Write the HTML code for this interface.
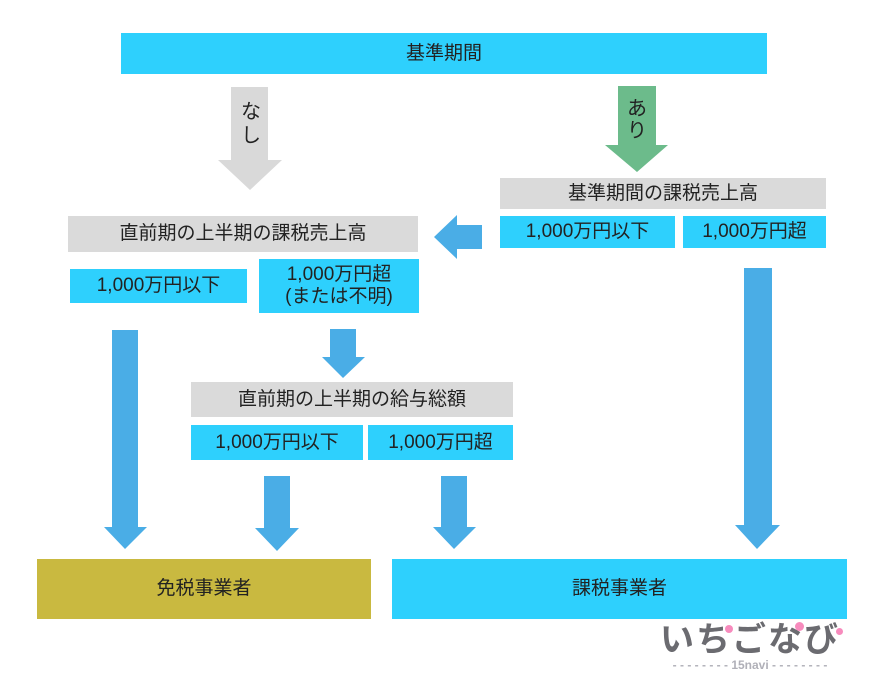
<!DOCTYPE html>
<html><head><meta charset="utf-8"><style>
body{margin:0;width:884px;height:691px;background:#fff;position:relative;overflow:hidden;font-family:"Liberation Sans","Noto Sans CJK JP",sans-serif;color:#222}
.b{position:absolute;display:flex;align-items:center;justify-content:center;text-align:center;font-size:19px;line-height:1.15}
.c{background:#2ed0fd}.g{background:#dadada}
svg{position:absolute;left:0;top:0}
</style></head><body>
<svg width="884" height="691">
<polygon points="231,87 268,87 268,160 282,160 250,190 218,160 231,160" fill="#d9d9d9"/>
<polygon points="618,86 656,86 656,145 668,145 637,172 605,145 618,145" fill="#6cbb8b"/>
<polygon points="482,225 457,225 457,215 434,237 457,259 457,249 482,249" fill="#4aade6"/>
<polygon points="112,330 138,330 138,527 147,527 125,549 104,527 112,527" fill="#4aade6"/>
<polygon points="330,329 356,329 356,357 365,357 343,378 322,357 330,357" fill="#4aade6"/>
<polygon points="264,476 290,476 290,528 299,528 277,551 255,528 264,528" fill="#4aade6"/>
<polygon points="441,476 467,476 467,527 476,527 454,549 433,527 441,527" fill="#4aade6"/>
<polygon points="744,268 772,268 772,525 780,525 757,549 735,525 744,525" fill="#4aade6"/>
</svg>
<div class="b" style="left:241px;top:100px;width:20px;font-size:20px;line-height:24px">な<br>し</div>
<div class="b" style="left:627px;top:98px;width:20px;font-size:20px;line-height:22px">あ<br>り</div>
<div class="b c" style="left:121px;top:33px;width:646px;height:41px">基準期間</div>
<div class="b g" style="left:500px;top:178px;width:326px;height:31px">基準期間の課税売上高</div>
<div class="b c" style="left:500px;top:216px;width:175px;height:32px">1,000万円以下</div>
<div class="b c" style="left:683px;top:216px;width:143px;height:32px">1,000万円超</div>
<div class="b g" style="left:68px;top:216px;width:350px;height:36px">直前期の上半期の課税売上高</div>
<div class="b c" style="left:70px;top:269px;width:177px;height:34px">1,000万円以下</div>
<div class="b c" style="left:259px;top:259px;width:160px;height:54px">1,000万円超<br>(または不明)</div>
<div class="b g" style="left:191px;top:382px;width:322px;height:35px">直前期の上半期の給与総額</div>
<div class="b c" style="left:191px;top:425px;width:172px;height:35px">1,000万円以下</div>
<div class="b c" style="left:368px;top:425px;width:145px;height:35px">1,000万円超</div>
<div class="b" style="left:37px;top:559px;width:334px;height:60px;background:#c9b940">免税事業者</div>
<div class="b c" style="left:392px;top:559px;width:455px;height:60px">課税事業者</div>
<div class="b" style="left:652px;top:620px;width:196px;height:42px;font-size:34px;font-weight:bold;color:#6b6b70;letter-spacing:2px">いちごなび</div>
<div style="position:absolute;left:725px;top:625px;width:8px;height:8px;border-radius:50%;background:#f78bbd"></div>
<div style="position:absolute;left:795px;top:622px;width:9px;height:9px;border-radius:50%;background:#f78bbd"></div>
<div style="position:absolute;left:836px;top:628px;width:7px;height:7px;border-radius:50%;background:#f78bbd"></div>
<div class="b" style="left:660px;top:659px;width:180px;height:14px;font-size:12px;font-weight:bold;color:#b0b0b8">- - - - - - - - 15navi - - - - - - - -</div>
</body></html>
